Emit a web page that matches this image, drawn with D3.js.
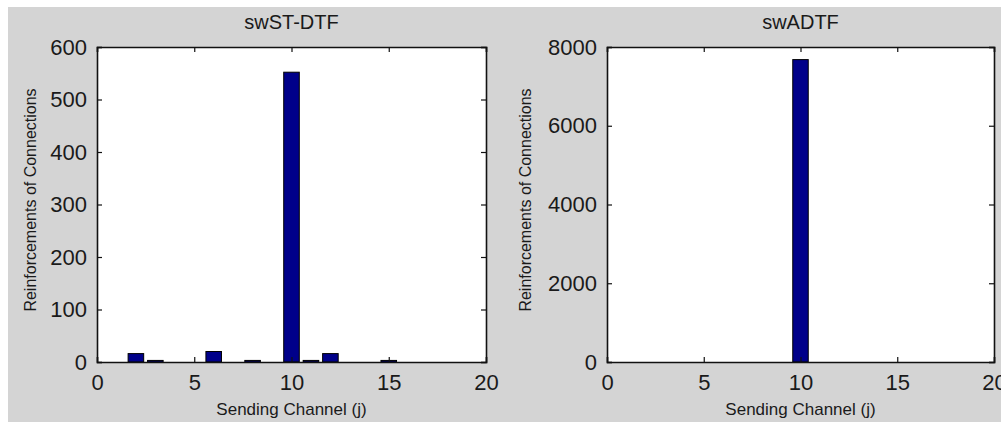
<!DOCTYPE html>
<html>
<head>
<meta charset="utf-8">
<script src="https://cdn.jsdelivr.net/npm/d3@7"></script>
<style>
  body { margin: 0; background: #fff; }
  svg { display: block; }
  text { font-family: "Liberation Sans", Arial, sans-serif; fill: #1a1a1a; }
</style>
</head>
<body>
<svg width="1001" height="422"></svg>
<script>
// left panel data
var channelsA = [2, 3, 6, 8, 10, 11, 12, 15];
var valuesA = [16, 3, 20, 3, 552, 3, 16, 3];
// right panel data
var channelsB = [10];
var valuesB = [7680];

var xTicks = [0, 5, 10, 15, 20];
var yTicksA = [0, 100, 200, 300, 400, 500, 600];
var yTicksB = [0, 2000, 4000, 6000, 8000];

var svg = d3.select("svg");

svg.append("rect")
  .attr("x", 8).attr("y", 7)
  .attr("width", 1001).attr("height", 422)
  .attr("fill", "#d4d4d4");

function drawPanel(opts) {
  var x = d3.scaleLinear().domain([0, 20]).range([opts.left, opts.right]);
  var y = d3.scaleLinear().domain(opts.yDomain).range([362, 47]);
  var g = svg.append("g");

  g.append("rect")
    .attr("x", x(0)).attr("y", y(opts.yDomain[1]))
    .attr("width", x(20) - x(0)).attr("height", y(0) - y(opts.yDomain[1]))
    .attr("fill", "#fff");

  var data = opts.channels.map(function(c, i) { return [c, opts.values[i]]; });
  g.selectAll("rect.bar").data(data).enter().append("rect")
    .attr("class", "bar")
    .attr("x", d => x(d[0] - 0.4))
    .attr("y", d => y(d[1]))
    .attr("width", d => x(d[0] + 0.4) - x(d[0] - 0.4))
    .attr("height", d => y(0) - y(d[1]))
    .attr("fill", "#00008a")
    .attr("stroke", "#000")
    .attr("stroke-width", 1);

  // inward ticks, mirrored on the top and right
  var tl = 5;
  var fmt = d3.format("d");
  var axB = d3.axisBottom(x).tickValues(xTicks).tickSize(-tl).tickPadding(12).tickFormat(fmt);
  var axT = d3.axisTop(x).tickValues(xTicks).tickSize(-tl).tickFormat("");
  var axL = d3.axisLeft(y).tickValues(opts.yTicks).tickSize(-tl).tickPadding(10).tickFormat(fmt);
  var axR = d3.axisRight(y).tickValues(opts.yTicks).tickSize(-tl).tickFormat("");

  var gb = g.append("g").attr("transform", "translate(0," + y(0) + ")").call(axB);
  var gt = g.append("g").attr("transform", "translate(0," + y(opts.yDomain[1]) + ")").call(axT);
  var gl = g.append("g").attr("transform", "translate(" + x(0) + ",0)").call(axL);
  var gr = g.append("g").attr("transform", "translate(" + x(20) + ",0)").call(axR);

  [gb, gt, gl, gr].forEach(function(a) {
    a.select(".domain").attr("stroke", "#111").attr("stroke-width", 1.6);
    a.selectAll(".tick line").attr("stroke", "#111").attr("stroke-width", 1.2);
    a.selectAll("text").style("font-size", "22px").attr("fill", "#1a1a1a")
      .style("font-family", "'Liberation Sans', Arial, sans-serif");
  });

  g.append("text")
    .attr("x", (opts.left + opts.right) / 2).attr("y", 29)
    .attr("text-anchor", "middle")
    .style("font-size", "20px")
    .text(opts.title);

  g.append("text")
    .attr("x", (opts.left + opts.right) / 2).attr("y", 415)
    .attr("text-anchor", "middle")
    .style("font-size", "17px")
    .text("Sending Channel (j)");

  g.append("text")
    .attr("transform", "translate(" + opts.ylabX + ",200) rotate(-90)")
    .attr("text-anchor", "middle")
    .style("font-size", "16px")
    .text("Reinforcements of Connections");
}

drawPanel({ left: 97, right: 486, yDomain: [0, 600], yTicks: yTicksA,
  channels: channelsA, values: valuesA, title: "swST-DTF", ylabX: 36 });
drawPanel({ left: 607, right: 994, yDomain: [0, 8000], yTicks: yTicksB,
  channels: channelsB, values: valuesB, title: "swADTF", ylabX: 531 });
</script>
</body>
</html>
